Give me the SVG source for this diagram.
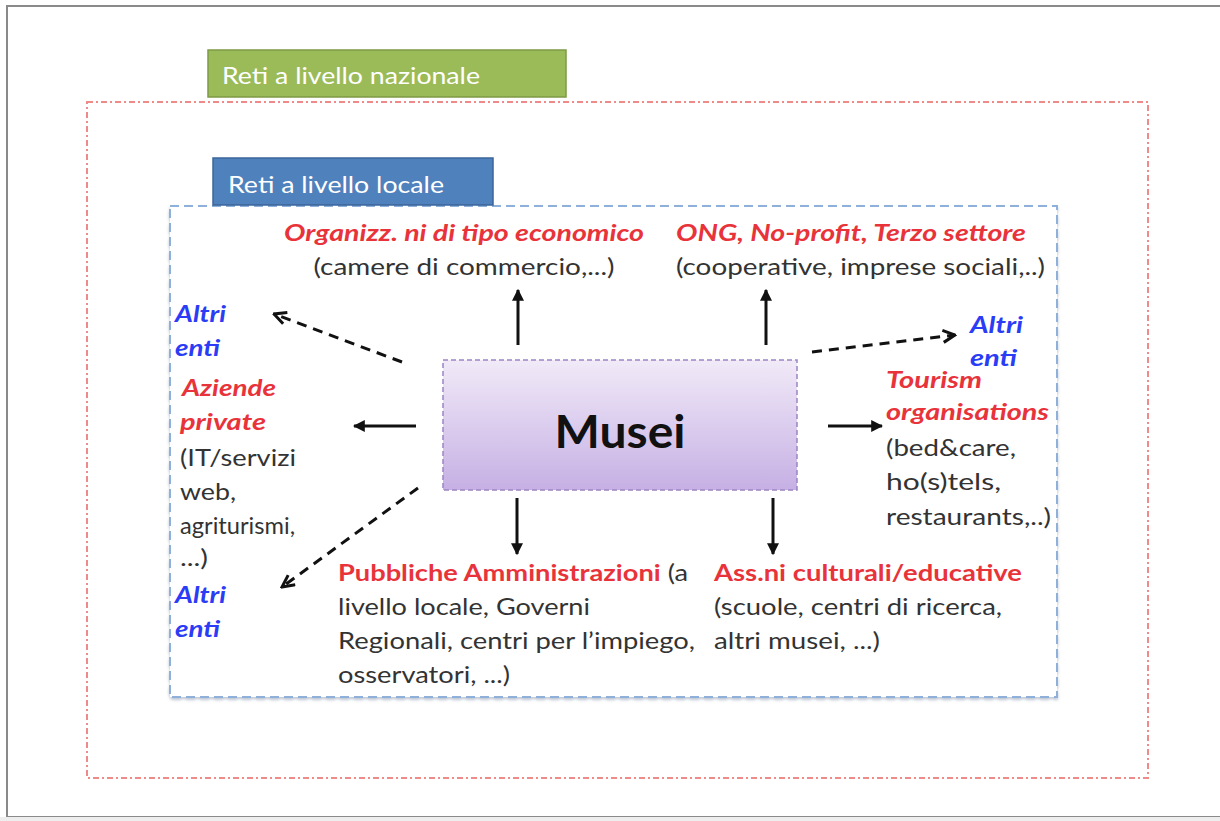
<svg xmlns="http://www.w3.org/2000/svg" width="1220" height="821" viewBox="0 0 1220 821">
<defs>
<linearGradient id="mg" x1="0" y1="0" x2="0" y2="1">
<stop offset="0" stop-color="#f1eaf8"/>
<stop offset="1" stop-color="#c6b0e4"/>
</linearGradient>
<marker id="solid" viewBox="0 0 10 10" refX="9" refY="5" markerWidth="4" markerHeight="4" orient="auto" markerUnits="strokeWidth">
<path d="M0,0 L10,5 L0,10 z" fill="#111"/>
</marker>
<marker id="open" viewBox="0 0 10 10" refX="9" refY="5" markerWidth="5" markerHeight="5" orient="auto" markerUnits="strokeWidth">
<path d="M1,1 L9,5 L1,9" fill="none" stroke="#111" stroke-width="2"/>
</marker>
<filter id="sh" x="-5%" y="-5%" width="110%" height="115%">
<feDropShadow dx="0" dy="2" stdDeviation="1.5" flood-color="#7a8aa8" flood-opacity="0.5"/>
</filter>
</defs>
<style>
.t{font-family:Lato,"Open Sans","Liberation Sans",sans-serif;font-size:23px;fill:#333}
.r{fill:#e8333b;font-weight:bold}
.ri{fill:#e8333b;font-weight:bold;font-style:italic}
.b{fill:#2a3cf5;font-weight:bold;font-style:italic}
.w{fill:#fff;font-size:23px}
.ar{stroke:#111;stroke-width:3;fill:none}
.da{stroke:#111;stroke-width:3;fill:none;stroke-dasharray:10 7}
</style>
<rect x="0" y="0" width="1220" height="821" fill="#fff"/>
<rect x="7" y="6" width="1230" height="811" fill="none" stroke="#8a8a8a" stroke-width="2"/>
<rect x="0" y="817" width="1220" height="4" fill="#eeeeee"/>
<g id="reti-nazionali">
<rect x="87" y="102" width="1061" height="676" fill="none" stroke="#ef8a8a" stroke-width="2" stroke-dasharray="6 3 2 3"/>
<rect x="208" y="50" width="358" height="47" fill="#9bbb59" stroke="#7e9a45" stroke-width="1.5"/>
<text class="t w" x="222" y="84" textLength="258" lengthAdjust="spacingAndGlyphs">Reti a livello nazionale</text>
</g>
<g id="reti-locali">
<rect x="170" y="206" width="887" height="491" fill="#fff" stroke="#8fb0d8" stroke-width="2" stroke-dasharray="9 5" filter="url(#sh)"/>
<rect x="213" y="158" width="280" height="47" fill="#4f81bd" stroke="#3b659a" stroke-width="1.5"/>
<text class="t w" x="228" y="193" textLength="216" lengthAdjust="spacingAndGlyphs">Reti a livello locale</text>
</g>
<g id="musei">
<rect x="443" y="360" width="354" height="130" fill="url(#mg)" stroke="#9b84c4" stroke-width="1.5" stroke-dasharray="5 3"/>
<text class="t" x="620" y="448" text-anchor="middle" textLength="131" lengthAdjust="spacingAndGlyphs" style="font-size:46px;font-weight:bold;fill:#111">Musei</text>
</g>
<g id="connectors">
<line class="ar" x1="518" y1="345" x2="518" y2="290" marker-end="url(#solid)"/>
<line class="ar" x1="766" y1="345" x2="766" y2="290" marker-end="url(#solid)"/>
<line class="ar" x1="416" y1="426" x2="354" y2="426" marker-end="url(#solid)"/>
<line class="ar" x1="828" y1="426" x2="882" y2="426" marker-end="url(#solid)"/>
<line class="ar" x1="517" y1="498" x2="517" y2="554" marker-end="url(#solid)"/>
<line class="ar" x1="773" y1="498" x2="773" y2="554" marker-end="url(#solid)"/>
<line class="da" x1="402" y1="362" x2="274" y2="314" marker-end="url(#open)"/>
<line class="da" x1="812" y1="352" x2="955" y2="335" marker-end="url(#open)"/>
<line class="da" x1="418" y1="488" x2="282" y2="587" marker-end="url(#open)"/>
</g>
<g id="organizz">
<text class="t ri" x="464" y="241" text-anchor="middle" textLength="360" lengthAdjust="spacingAndGlyphs">Organizz. ni di tipo economico</text>
<text class="t" x="464" y="275" text-anchor="middle" textLength="301" lengthAdjust="spacingAndGlyphs">(camere di commercio,...)</text>
</g>
<g id="ong">
<text class="t ri" x="676" y="241" textLength="350" lengthAdjust="spacingAndGlyphs">ONG, No-profit, Terzo settore</text>
<text class="t" x="676" y="275" textLength="369" lengthAdjust="spacingAndGlyphs">(cooperative, imprese sociali,..)</text>
</g>
<g id="altri-enti-1">
<text class="t b" x="175" y="322" textLength="51" lengthAdjust="spacingAndGlyphs">Altri</text>
<text class="t b" x="175" y="356" textLength="45" lengthAdjust="spacingAndGlyphs">enti</text>
</g>
<g id="aziende">
<text class="t ri" x="182" y="396" textLength="94" lengthAdjust="spacingAndGlyphs">Aziende</text>
<text class="t ri" x="180" y="430" textLength="86" lengthAdjust="spacingAndGlyphs">private</text>
<text class="t" x="180" y="466" textLength="116" lengthAdjust="spacingAndGlyphs">(IT/servizi</text>
<text class="t" x="180" y="500" textLength="56" lengthAdjust="spacingAndGlyphs">web,</text>
<text class="t" x="180" y="534" textLength="115" lengthAdjust="spacingAndGlyphs">agriturismi,</text>
<text class="t" x="180" y="566" textLength="28" lengthAdjust="spacingAndGlyphs">...)</text>
</g>
<g id="altri-enti-2">
<text class="t b" x="175" y="603" textLength="51" lengthAdjust="spacingAndGlyphs">Altri</text>
<text class="t b" x="175" y="637" textLength="45" lengthAdjust="spacingAndGlyphs">enti</text>
</g>
<g id="altri-enti-3">
<text class="t b" x="970" y="333" textLength="53" lengthAdjust="spacingAndGlyphs">Altri</text>
<text class="t b" x="970" y="366" textLength="47" lengthAdjust="spacingAndGlyphs">enti</text>
</g>
<g id="tourism">
<text class="t ri" x="886" y="388" textLength="96" lengthAdjust="spacingAndGlyphs">Tourism</text>
<text class="t ri" x="886" y="420" textLength="163" lengthAdjust="spacingAndGlyphs">organisations</text>
<text class="t" x="886" y="456" textLength="130" lengthAdjust="spacingAndGlyphs">(bed&amp;care,</text>
<text class="t" x="886" y="490" textLength="115" lengthAdjust="spacingAndGlyphs">ho(s)tels,</text>
<text class="t" x="886" y="525" textLength="165" lengthAdjust="spacingAndGlyphs">restaurants,..)</text>
</g>
<g id="pubbliche">
<text class="t" x="338" y="581" textLength="350" lengthAdjust="spacingAndGlyphs"><tspan class="r">Pubbliche Amministrazioni</tspan> (a</text>
<text class="t" x="338" y="615" textLength="252" lengthAdjust="spacingAndGlyphs">livello locale, Governi</text>
<text class="t" x="338" y="649" textLength="357" lengthAdjust="spacingAndGlyphs">Regionali, centri per l’impiego,</text>
<text class="t" x="338" y="683" textLength="172" lengthAdjust="spacingAndGlyphs">osservatori, ...)</text>
</g>
<g id="assni">
<text class="t r" x="714" y="581" textLength="308" lengthAdjust="spacingAndGlyphs">Ass.ni culturali/educative</text>
<text class="t" x="714" y="615" textLength="288" lengthAdjust="spacingAndGlyphs">(scuole, centri di ricerca,</text>
<text class="t" x="714" y="649" textLength="166" lengthAdjust="spacingAndGlyphs">altri musei, ...)</text>
</g>
</svg>
